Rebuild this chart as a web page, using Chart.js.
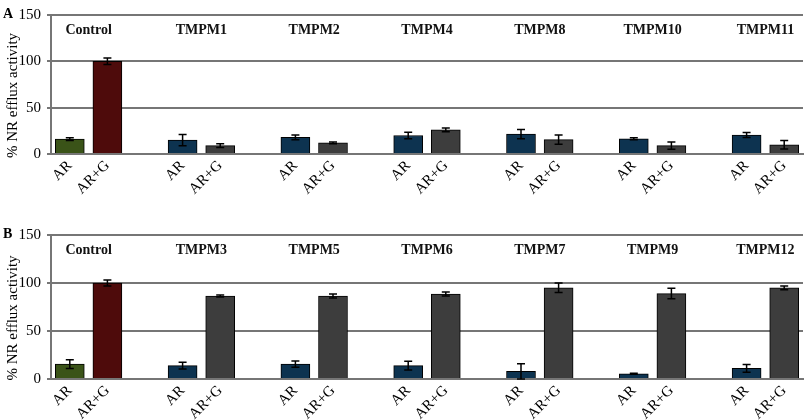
<!DOCTYPE html>
<html><head><meta charset="utf-8">
<script src="https://cdn.jsdelivr.net/npm/chart.js@4/dist/chart.umd.min.js"></script>
<style>
html,body{margin:0;padding:0;background:#fff;}
#wrap{position:relative;width:805px;height:420px;overflow:hidden;}
#cA{position:absolute;left:0;top:0;}
#cB{position:absolute;left:0;top:200px;}
</style></head><body>
<div id="wrap"><canvas id="cA" width="805" height="200"></canvas><canvas id="cB" width="805" height="220"></canvas></div>
<script>
// ---- data ----
const treatments = ['AR', 'AR+G'];
const groupsA = ['Control', 'TMPM1', 'TMPM2', 'TMPM4', 'TMPM8', 'TMPM10', 'TMPM11'];
const arA      = [16, 15, 18, 20, 21.5, 16.5, 20.5];
const arErrA   = [1.5, 6, 2.5, 3.5, 5, 1, 2.7];
const argA     = [100, 9, 12, 26, 15.5, 9, 10];
const argErrA  = [3.5, 2, 1, 2, 5, 4, 4.5];

const groupsB = ['Control', 'TMPM3', 'TMPM5', 'TMPM6', 'TMPM7', 'TMPM9', 'TMPM12'];
const arB      = [15.5, 14, 15.5, 14, 8, 5.5, 11];
const arErrB   = [4.5, 3.5, 3.3, 4.5, 8, 0.5, 4];
const argB     = [100, 86.5, 86.5, 88.5, 95, 89, 95];
const argErrB  = [3, 1, 2, 2, 5, 5.5, 2];

const yTicks = [0, 50, 100, 150];

// ---- styles ----
const FONT = '"Liberation Serif", "Times New Roman", serif';
const COL_CTRL_AR = '#3a5318';
const COL_CTRL_ARG = '#4e0b0b';
const COL_AR = '#0d3350';
const COL_ARG = '#3d3d3d';
const GRID = '#767676';

function build(groups, ar, arErr, arg, argErr) {
  const labels = [], values = [], errs = [], colors = [];
  groups.forEach((g, i) => {
    labels.push(treatments[0]); values.push(ar[i]); errs.push(arErr[i]);
    colors.push(i === 0 ? COL_CTRL_AR : COL_AR);
    labels.push(treatments[1]); values.push(arg[i]); errs.push(argErr[i]);
    colors.push(i === 0 ? COL_CTRL_ARG : COL_ARG);
    if (i < groups.length - 1) { labels.push(''); values.push(null); errs.push(null); colors.push('rgba(0,0,0,0)'); }
  });
  return { labels, values, errs, colors };
}

const overlay = {
  id: 'overlay',
  afterDatasetsDraw(chart, args, opts) {
    const ctx = chart.ctx;
    const xs = chart.scales.x, ys = chart.scales.y;
    const meta = chart.getDatasetMeta(0);
    const errs = opts.errs;
    ctx.save();
    ctx.strokeStyle = '#000';
    ctx.lineWidth = 1.5;
    meta.data.forEach((bar, i) => {
      const v = chart.data.datasets[0].data[i];
      if (v === null || errs[i] == null) return;
      const x = bar.x;
      const yt = ys.getPixelForValue(v + errs[i]);
      const yb = ys.getPixelForValue(Math.max(0, v - errs[i]));
      ctx.beginPath();
      ctx.moveTo(x, yt); ctx.lineTo(x, yb);
      ctx.moveTo(x - 4, yt); ctx.lineTo(x + 4, yt);
      ctx.moveTo(x - 4, yb); ctx.lineTo(x + 4, yb);
      ctx.stroke();
    });
    // group titles
    ctx.fillStyle = '#111';
    ctx.font = 'bold 14px ' + FONT;
    ctx.textAlign = 'center';
    ctx.textBaseline = 'middle';
    opts.groups.forEach((g, i) => {
      const x = (xs.getPixelForValue(3 * i) + xs.getPixelForValue(3 * i + 1)) / 2;
      ctx.fillText(g, x, chart.chartArea.top + 15);
    });
    // panel letter
    ctx.fillStyle = '#000';
    ctx.font = 'bold 14px ' + FONT;
    ctx.textAlign = 'left';
    ctx.fillText(opts.letter, 3, chart.chartArea.top - 1);
    // y title
    ctx.save();
    ctx.font = '15px ' + FONT;
    ctx.translate(13, (chart.chartArea.top + chart.chartArea.bottom) / 2 + 11);
    ctx.rotate(-Math.PI / 2);
    ctx.textAlign = 'center';
    ctx.fillText('% NR efflux activity', 0, 0);
    ctx.restore();
    ctx.restore();
  }
};

function makeChart(id, groups, ar, arErr, arg, argErr, letter, padTop, xHeight) {
  const d = build(groups, ar, arErr, arg, argErr);
  return new Chart(document.getElementById(id), {
    type: 'bar',
    data: {
      labels: d.labels,
      datasets: [{ data: d.values, backgroundColor: d.colors, borderColor: '#000', borderWidth: 1, barThickness: 29 }]
    },
    options: {
      responsive: false, animation: false, devicePixelRatio: 1,
      layout: { padding: { top: padTop, right: 2, left: 0, bottom: 0 } },
      plugins: { legend: { display: false }, tooltip: { enabled: false },
        overlay: { errs: d.errs, groups: groups, letter: letter } },
      scales: {
        x: {
          afterFit(s) { s.height = xHeight; },
          grid: { display: false, drawTicks: false },
          border: { display: true, color: GRID, width: 2 },
          ticks: { maxRotation: 45, minRotation: 45, autoSkip: false, padding: 3, color: '#000',
            font: { family: FONT, size: 15 } }
        },
        y: {
          min: 0, max: 150,
          afterFit(s) { s.width = 51; },
          afterBuildTicks(s) { s.ticks = yTicks.map(v => ({ value: v })); },
          grid: { color: GRID, lineWidth: 2, tickLength: 4 },
          border: { display: true, color: GRID, width: 2 },
          ticks: { padding: 6, color: '#000', font: { family: FONT, size: 15 } }
        }
      }
    },
    plugins: [overlay]
  });
}

makeChart('cA', groupsA, arA, arErrA, argA, argErrA, 'A', 10, 46);
makeChart('cB', groupsB, arB, arErrB, argB, argErrB, 'B', 35, 41);
</script>
</body></html>
